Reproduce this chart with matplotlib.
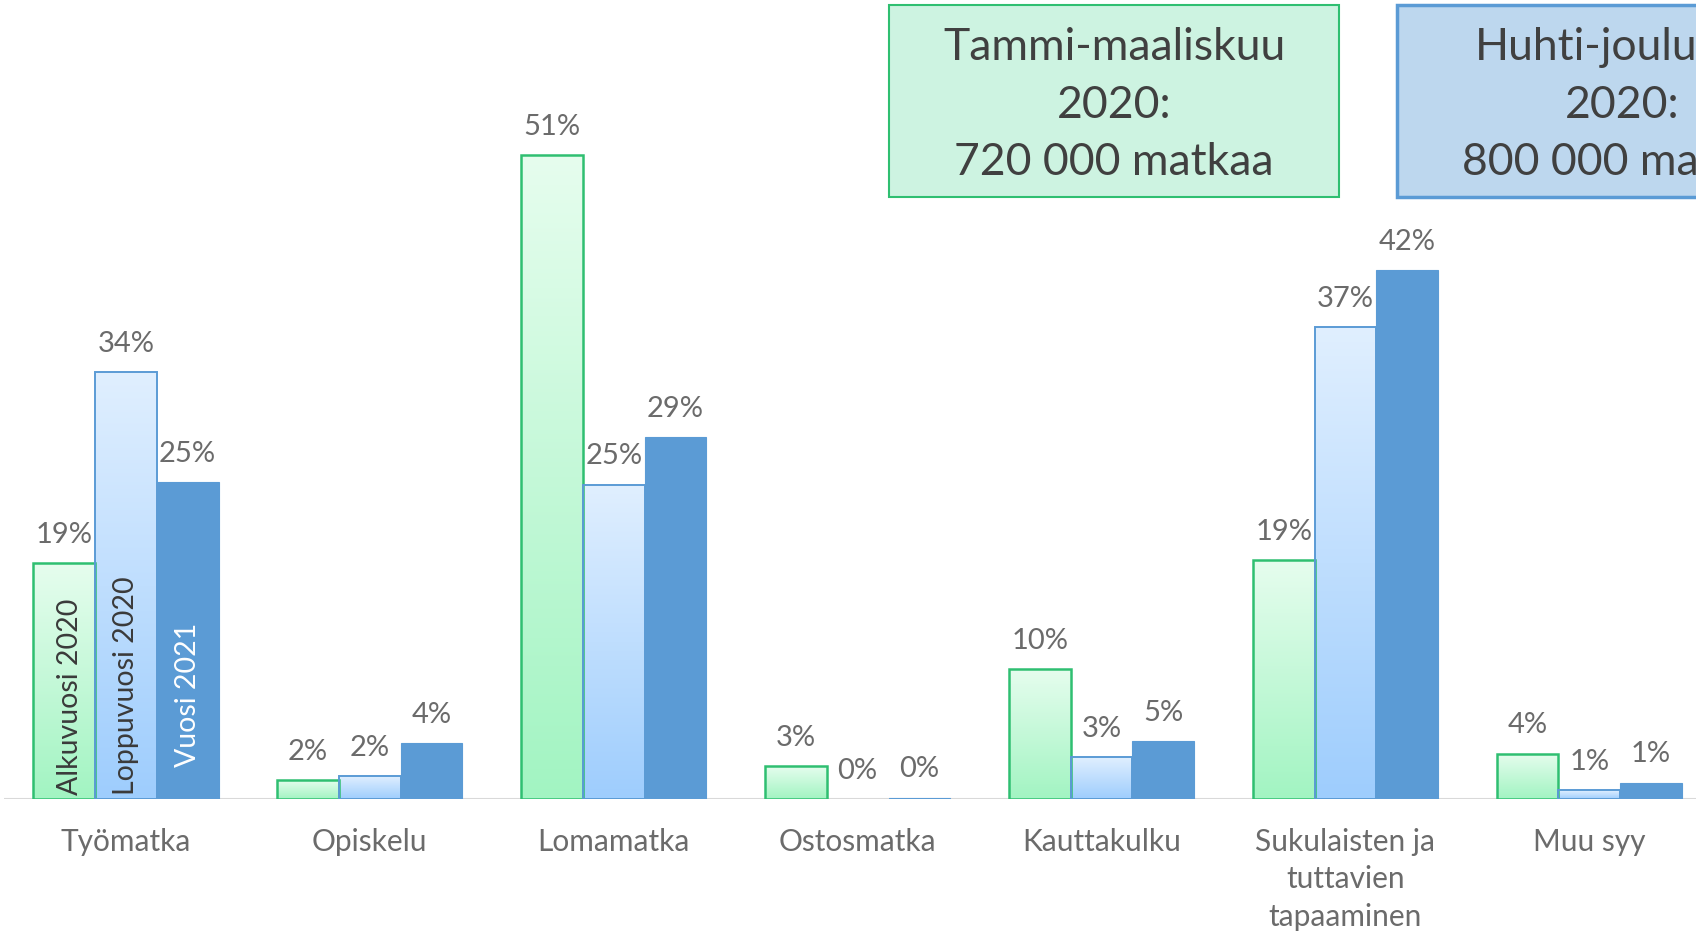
import numpy as np
import matplotlib
matplotlib.use("Agg")
import matplotlib.pyplot as plt
from matplotlib.colors import LinearSegmentedColormap
from matplotlib.patches import Rectangle

plt.rcParams['font.family'] = ['Lato', 'DejaVu Sans']

categories = ["Työmatka", "Opiskelu", "Lomamatka", "Ostosmatka", "Kauttakulku",
              "Sukulaisten ja\ntuttavien\ntapaaminen", "Muu syy"]
series = ["Alkuvuosi 2020", "Loppuvuosi 2020", "Vuosi 2021"]
alku_2020 = [18.7, 1.5, 51.0, 2.6, 10.3, 18.9, 3.6]
loppu_2020 = [33.8, 1.8, 24.9, 0.0, 3.3, 37.4, 0.7]
vuosi_2021 = [25.1, 4.4, 28.7, 0.1, 4.6, 41.9, 1.3]
box_texts = ["Tammi-maaliskuu\n2020:\n720 000 matkaa",
             "Huhti-joulukuu\n2020:\n800 000 matkaa"]

W, H = 1696, 932
base = 799
fig = plt.figure(figsize=(W / 100, H / 100), dpi=100)
# plot area runs a bit past the right edge, like the cropped original
ax = fig.add_axes([4 / W, (H - base) / H, 7 * 243.9 / W, base / H])

x = np.arange(len(categories))
bw = 0.253
txt_col = "#6b6b6b"


def grad_fill(bars, top, bottom):
    cmap = LinearSegmentedColormap.from_list("g", [bottom, top])
    grad = np.linspace(0, 1, 256).reshape(-1, 1)
    for b in bars:
        h = b.get_height()
        if h <= 0:
            b.set_linewidth(0)
            continue
        bx, by, w = b.get_x(), b.get_y(), b.get_width()
        im = ax.imshow(grad, cmap=cmap, extent=[bx, bx + w, by, by + h],
                       origin="lower", aspect="auto", zorder=1.5)
        im.set_clip_path(b)


b1 = ax.bar(x - bw, alku_2020, bw, facecolor="none", edgecolor="#2fbf71", lw=1.8, zorder=2)
b2 = ax.bar(x, loppu_2020, bw, facecolor="none", edgecolor="#5b9bd5", lw=1.4, zorder=2)
b3 = ax.bar(x + bw, vuosi_2021, bw, color="#5b9bd5", edgecolor="#5b9bd5", lw=0.8, zorder=2)
grad_fill(b1, "#e6fdee", "#a2f4c2")
grad_fill(b2, "#e0efff", "#9ecdfd")

for bars, vals in [(b1, alku_2020), (b2, loppu_2020), (b3, vuosi_2021)]:
    for b, v in zip(bars, vals):
        ax.annotate(f"{v:.0f}%", (b.get_x() + b.get_width() / 2, v),
                    xytext=(0, 11), textcoords="offset points",
                    ha="center", va="bottom", fontsize=21, color=txt_col)

# series names written inside the first group
ax.text(-bw + 0.022, 0.3, series[0], rotation=90, ha="center", va="bottom",
        fontsize=20.5, color="#3a3a3a", zorder=3)
ax.text(0, 0.3, series[1], rotation=90, ha="center", va="bottom",
        fontsize=20.5, color="#3a3a3a", zorder=3)
ax.text(bw, 2.5, series[2], rotation=90, ha="center", va="bottom",
        fontsize=20.5, color="white", zorder=3)

ax.set_xlim(-0.5, 6.5)
ax.set_ylim(0, base / 12.62)
ax.axhline(0, color="#d9d9d9", lw=1.5, zorder=1)
for s in ax.spines.values():
    s.set_visible(False)
ax.set_yticks([])
ax.set_xticks(x)
ax.set_xticklabels(categories, fontsize=21.5, color=txt_col, linespacing=1.4)
ax.tick_params(axis="x", length=0, pad=21)

# the two summary boxes at the top
boxes = [(889, 5, 450, 192, "#cdf3e1", "#2fbf71", 1.5),
         (1397, 5, 450, 192, "#bdd7ee", "#5b9bd5", 2.5)]
for (bx, by, bwid, bh, fc, ec, lw), t in zip(boxes, box_texts):
    fig.add_artist(Rectangle((bx / W, 1 - (by + bh) / H), bwid / W, bh / H,
                             transform=fig.transFigure, facecolor=fc,
                             edgecolor=ec, lw=lw))
    fig.text((bx + bwid / 2) / W, 1 - (by + bh / 2 + 4) / H, t, ha="center",
             va="center", fontsize=32, color="#404040", linespacing=1.5)

fig.savefig("out.png", dpi=100)
